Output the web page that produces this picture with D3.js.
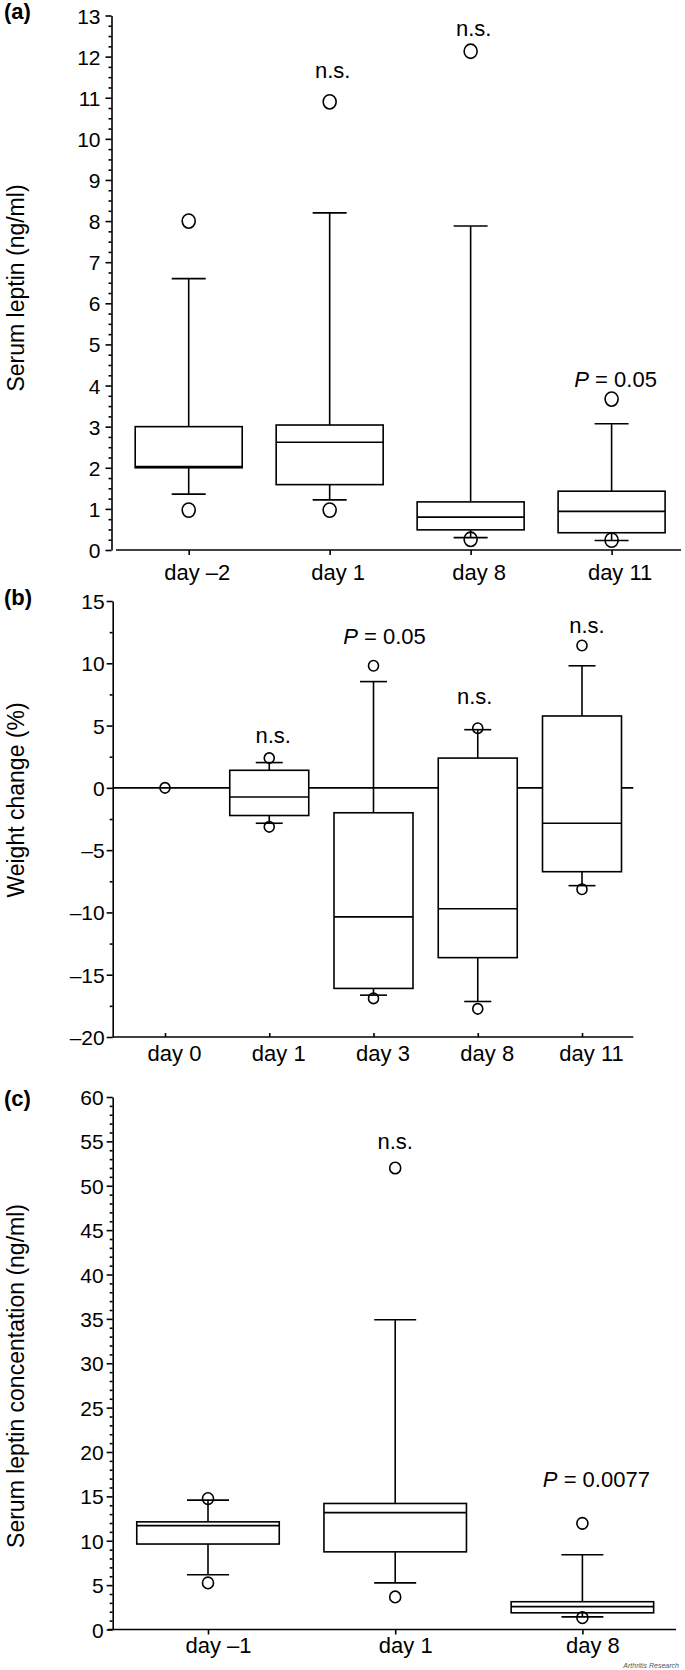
<!DOCTYPE html>
<html><head><meta charset="utf-8">
<script src="https://cdn.jsdelivr.net/npm/d3@7"></script>
<style>
body{margin:0;background:#fff}
svg{display:block}
text{font-family:"Liberation Sans",Arial,Helvetica,sans-serif;fill:#000}
</style>
</head><body>
<svg id="chart" width="685" height="1670"></svg>
<script>
// ---------- Panel (a): serum leptin (ng/ml)
const aCats     = ["day \u20132", "day 1", "day 8", "day 11"];
const aWhiskHi  = [6.6, 8.2, 7.88, 3.07];
const aQ3       = [3.0, 3.04, 1.17, 1.43];
const aMedian   = [2.03, 2.62, 0.8, 0.94];
const aQ1       = [2.0, 1.59, 0.49, 0.42];
const aWhiskLo  = [1.36, 1.22, 0.3, 0.23];
const aOutHi    = [8.0, 10.9, 12.13, 3.67];
const aOutLo    = [0.97, 0.97, 0.26, 0.24];
const aNotes    = ["", "n.s.", "n.s.", "P = 0.05"];
const aNoteAt   = [null, 11.47, 12.49, 3.96];
const aTicks    = [0,1,2,3,4,5,6,7,8,9,10,11,12,13];

// ---------- Panel (b): weight change (%)
const bCats     = ["day 0", "day 1", "day 3", "day 8", "day 11"];
const bWhiskHi  = [null, 2.03, 8.53, 4.67, 9.8];
const bQ3       = [null, 1.41, -2.0, 2.39, 5.77];
const bMedian   = [null, -0.73, -10.36, -9.71, -2.84];
const bQ1       = [null, -2.22, -16.1, -13.63, -6.73];
const bWhiskLo  = [null, -2.84, -16.64, -17.15, -7.85];
const bOutHi    = [0, 2.39, 9.8, 4.79, 11.43];
const bOutLo    = [null, -3.13, -16.9, -17.74, -8.14];
const bNotes    = ["", "n.s.", "P = 0.05", "n.s.", "n.s."];
const bNoteAt   = [null, 3.6, 11.55, 6.77, 12.4];
const bTicks    = [-20,-15,-10,-5,0,5,10,15];

// ---------- Panel (c): serum leptin concentation (ng/ml)
const cCats     = ["day \u20131", "day 1", "day 8"];
const cWhiskHi  = [14.58, 34.9, 8.42];
const cQ3       = [12.13, 14.2, 3.13];
const cMedian   = [11.7, 13.17, 2.58];
const cQ1       = [9.63, 8.75, 1.88];
const cWhiskLo  = [6.17, 5.25, 1.42];
const cOutHi    = [14.75, 52.0, 11.96];
const cOutLo    = [5.25, 3.67, 1.33];
const cNotes    = ["", "n.s.", "P = 0.0077"];
const cNoteAt   = [null, 54.1, 16.06];
const cTicks    = [0,5,10,15,20,25,30,35,40,45,50,55,60];

const svg = d3.select("#chart");
const SW = 1.6;

function fmt(d){ return d < 0 ? "\u2013" + Math.abs(d) : String(d); }

function drawPanel(p){
  const g = svg.append("g");
  const y = d3.scaleLinear().domain(p.yDomain).range(p.yRange);
  const x = d3.scalePoint().domain(p.cats).range(p.catRange);
  const y0 = y(p.yDomain[0]);

  // minor ticks
  const minors = d3.range(p.yDomain[0], p.yDomain[1] + 1e-9, p.minorStep)
    .filter(v => !p.ticks.some(t => Math.abs(t - v) < 1e-9));
  const gm = g.append("g").attr("transform", `translate(${p.axisX},0)`)
    .call(d3.axisLeft(y).tickValues(minors).tickSize(3).tickFormat(""));
  gm.select(".domain").remove();
  gm.selectAll("line").attr("stroke-width", SW);

  // major axis
  const ga = g.append("g").attr("transform", `translate(${p.axisX},0)`)
    .call(d3.axisLeft(y).tickValues(p.ticks).tickSize(6).tickSizeOuter(0)
      .tickPadding(p.tickPad).tickFormat(fmt));
  ga.select(".domain").attr("stroke-width", SW);
  ga.selectAll("line").attr("stroke-width", SW);
  ga.selectAll("text").attr("font-size", 21).attr("fill", "#000")
    .attr("font-family", '"Liberation Sans",Arial,sans-serif').attr("dy", "0.36em");

  // x axis baseline
  g.append("line").attr("x1", p.xStart).attr("x2", p.xEnd)
    .attr("y1", y0).attr("y2", y0).attr("stroke", "#000").attr("stroke-width", SW);
  const gx = g.append("g").attr("transform", `translate(0,${y0})`)
    .call(d3.axisBottom(x).tickSize(p.xTick).tickSizeOuter(0));
  gx.select(".domain").remove();
  gx.selectAll("line").attr("stroke-width", SW);
  gx.selectAll("text").attr("font-size", 22).attr("fill", "#000")
    .attr("font-family", '"Liberation Sans",Arial,sans-serif')
    .attr("y", p.labelBase - y0).attr("dy", 0).attr("dx", p.labelDx);

  // zero line
  if (p.zeroLine){
    g.append("line").attr("x1", p.axisX).attr("x2", p.xEnd)
      .attr("y1", y(0)).attr("y2", y(0)).attr("stroke", "#000").attr("stroke-width", SW);
  }

  const idx = d3.range(p.cats.length);
  const bw = p.boxW, cw = p.capW;
  const marks = g.append("g").attr("stroke", "#000").attr("stroke-width", SW);

  idx.forEach(i => {
    const cx = x(p.cats[i]);
    if (p.q3[i] != null){
      marks.append("line").attr("x1", cx).attr("x2", cx)
        .attr("y1", y(p.q3[i])).attr("y2", y(p.whiskHi[i]));
      marks.append("line").attr("x1", cx - cw/2).attr("x2", cx + cw/2)
        .attr("y1", y(p.whiskHi[i])).attr("y2", y(p.whiskHi[i]));
      marks.append("line").attr("x1", cx).attr("x2", cx)
        .attr("y1", y(p.q1[i])).attr("y2", y(p.whiskLo[i]));
      marks.append("line").attr("x1", cx - cw/2).attr("x2", cx + cw/2)
        .attr("y1", y(p.whiskLo[i])).attr("y2", y(p.whiskLo[i]));
      marks.append("rect").attr("x", cx - bw/2).attr("width", bw)
        .attr("y", y(p.q3[i])).attr("height", y(p.q1[i]) - y(p.q3[i]))
        .attr("fill", "#fff");
      marks.append("line").attr("x1", cx - bw/2).attr("x2", cx + bw/2)
        .attr("y1", y(p.median[i])).attr("y2", y(p.median[i]));
    }
    [p.outHi[i], p.outLo[i]].forEach(v => {
      if (v == null) return;
      marks.append("ellipse").attr("cx", cx).attr("cy", y(v))
        .attr("rx", p.r).attr("ry", p.r * p.rRatio).attr("fill", "none");
    });
    if (p.notes[i]){
      const t = g.append("text").attr("x", cx + p.noteDx[i]).attr("y", y(p.noteAt[i]))
        .attr("text-anchor", "middle").attr("font-size", 22);
      const s = p.notes[i];
      if (s.startsWith("P")){
        t.append("tspan").attr("font-style", "italic").text("P");
        t.append("tspan").text(s.slice(1));
      } else t.text(s);
    }
  });

  g.append("text").attr("transform", `translate(${p.titleX},${p.titleY}) rotate(-90)`)
    .attr("text-anchor", "middle").attr("font-size", 23).text(p.title);
  g.append("text").attr("x", 4).attr("y", p.panelY).attr("font-size", 22)
    .attr("font-weight", "bold").text(p.panel);
}

drawPanel({
  cats: aCats, whiskHi: aWhiskHi, q3: aQ3, median: aMedian, q1: aQ1, whiskLo: aWhiskLo,
  outHi: aOutHi, outLo: aOutLo, notes: aNotes, noteAt: aNoteAt, ticks: aTicks,
  yDomain: [0, 13], yRange: [550, 15.5], axisX: 111.5, xStart: 116, xEnd: 681,
  catRange: [188.7, 611.6], boxW: 107, capW: 34, r: 6.5, rRatio: 1.1, minorStep: 0.25,
  tickPad: 5, labelBase: 580, labelDx: 8, noteDx: [0, 3, 3, 4], xTick: 5,
  title: "Serum leptin (ng/ml)", titleX: 24, titleY: 288, panel: "(a)", panelY: 19
});
drawPanel({
  cats: bCats, whiskHi: bWhiskHi, q3: bQ3, median: bMedian, q1: bQ1, whiskLo: bWhiskLo,
  outHi: bOutHi, outLo: bOutLo, notes: bNotes, noteAt: bNoteAt, ticks: bTicks,
  yDomain: [-20, 15], yRange: [1037, 601], axisX: 112.7, xStart: 112.7, xEnd: 633.3,
  catRange: [165, 582], boxW: 79, capW: 27, r: 5, rRatio: 1.05, minorStep: 2.5,
  tickPad: 2, labelBase: 1061, labelDx: 9, noteDx: [0, 4, 11, -3, 5], zeroLine: true, xTick: -4,
  title: "Weight change (%)", titleX: 24, titleY: 800, panel: "(b)", panelY: 605
});
drawPanel({
  cats: cCats, whiskHi: cWhiskHi, q3: cQ3, median: cMedian, q1: cQ1, whiskLo: cWhiskLo,
  outHi: cOutHi, outLo: cOutLo, notes: cNotes, noteAt: cNoteAt, ticks: cTicks,
  yDomain: [0, 60], yRange: [1629.5, 1097], axisX: 112.7, xStart: 108, xEnd: 676,
  catRange: [208, 582.4], boxW: 142.5, capW: 42, r: 5.5, rRatio: 1.05, minorStep: 1,
  tickPad: 3, labelBase: 1653, labelDx: 10, noteDx: [0, 0, 14], xTick: 5,
  title: "Serum leptin concentation (ng/ml)", titleX: 24, titleY: 1376, panel: "(c)", panelY: 1106
});

svg.append("text").attr("x", 679).attr("y", 1668).attr("text-anchor", "end")
  .attr("font-size", 7).attr("font-style", "italic").attr("fill", "#555")
  .style("fill", "#555").text("Arthritis Research");
</script>
</body></html>
